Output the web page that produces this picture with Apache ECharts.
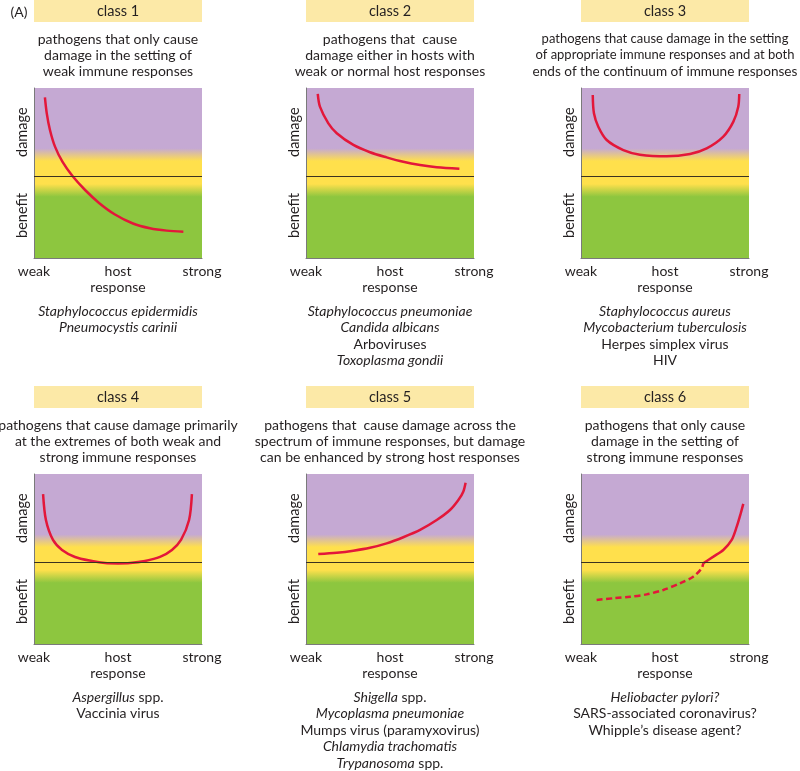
<!DOCTYPE html>
<html><head><meta charset="utf-8">
<script src="https://cdn.jsdelivr.net/npm/echarts@6/dist/echarts.min.js"></script>
<style>html,body{margin:0;padding:0;background:#fff}#c{width:800px;height:771px}</style>
</head><body><div id="c"></div>
<script>
// ---------- data ----------
const classNames = ['class 1', 'class 2', 'class 3', 'class 4', 'class 5', 'class 6'];
const descriptions = [
  ['pathogens that only cause', 'damage in the setting of', 'weak immune responses'],
  ['pathogens that  cause', 'damage either in hosts with', 'weak or normal host responses'],
  ['pathogens that cause damage in the setting', 'of appropriate immune responses and at both', 'ends of the continuum of immune responses'],
  ['pathogens that cause damage primarily', 'at the extremes of both weak and', 'strong immune responses'],
  ['pathogens that  cause damage across the', 'spectrum of immune responses, but damage', 'can be enhanced by strong host responses'],
  ['pathogens that only cause', 'damage in the setting of', 'strong immune responses']
];
const pathogens = [
  ['{i|Staphylococcus epidermidis}', '{i|Pneumocystis carinii}'],
  ['{i|Staphylococcus pneumoniae}', '{i|Candida albicans}', 'Arboviruses', '{i|Toxoplasma gondii}'],
  ['{i|Staphylococcus aureus}', '{i|Mycobacterium tuberculosis}', 'Herpes simplex virus', 'HIV'],
  ['{i|Aspergillus} spp.', 'Vaccinia virus'],
  ['{i|Shigella} spp.', '{i|Mycoplasma pneumoniae}', 'Mumps virus (paramyxovirus)', '{i|Chlamydia trachomatis}', '{i|Trypanosoma} spp.'],
  ['{i|Heliobacter pylori?}', 'SARS-associated coronavirus?', 'Whipple\u2019s disease agent?']
];
const xTickLabels = ['weak', 'host\nresponse', 'strong'];
const yTickLabels = ['damage', 'benefit'];
const yTickValues = [26, -23];
const panelLabel = '(A)';

// curves: [host response (0..100), damage(+)/benefit(-)]
const curve1 = [[6.5,46.5],[7.6,37.1],[9.5,27.3],[12.5,17.5],[17.0,8.5],[22.9,0.2],[30.4,-8.0],[38.7,-15.6],[48.2,-22.4],[58.9,-27.7],[69.0,-30.5],[79.0,-31.9],[88.9,-32.5]];
const curve2 = [[7.0,48.5],[8.3,41],[13.3,31.2],[18.3,25.4],[28.2,18.5],[38.1,14.2],[48,11.2],[57.9,8.6],[67.9,6.7],[77.8,5.4],[91.3,4.5]];
const curve3 = [[7.0,47.9],[7.7,37.1],[10.3,29.2],[15.3,21.4],[25.2,15.5],[35.1,12.8],[51,11.8],[64.9,13.2],[74.8,16.5],[84.7,23.4],[90.7,32.2],[93.6,41],[94.2,48.5]];
const curve4 = [[5.4,40.2],[7.1,24.9],[11.3,13.2],[16.7,7.3],[24.4,3.2],[34.5,0.8],[42.3,-0.4],[50,-0.6],[57.1,-0.4],[66.1,0.8],[75,3.2],[82.1,7.3],[87.5,13.2],[92.3,24.9],[94,40.2]];
const curve5 = [[7.3,4.9],[18.3,5.7],[28.2,6.9],[38.1,8.6],[48,11.2],[57.9,14.8],[67.9,19.1],[77.8,24.9],[85.7,30.8],[90.7,36.7],[93.6,41.6],[95,46.9]];
const curve6dashed = [[9.3,-22.1],[19.2,-21.1],[29.2,-20.2],[39.1,-18.8],[49,-16.2],[58.9,-12.3],[66.8,-8.4],[71.8,-3.5],[72.8,-0.5]];
const curve6solid = [[72.8,-0.5],[78.8,3.4],[84.7,7.3],[89.7,13.2],[92.7,21],[95.1,28.9],[96.6,34.4]];

// ---------- layout / style ----------
const FONT = 'Lato, "Open Sans", sans-serif';
const TXT = '#231f20';
const RED = '#e3173a';
const colLeft = [34, 306, 581];
const rowTop = [88, 474];
const W = 168, H = 170;
const rowOffset = 386;

const chart = echarts.init(document.getElementById('c'), null, {renderer: 'canvas'});

const bg = new echarts.graphic.LinearGradient(0, 0, 0, 1, [
  {offset: 0, color: '#c5a9d3'},
  {offset: 0.355, color: '#c5a9d3'},
  {offset: 0.43, color: '#ffe04c'},
  {offset: 0.565, color: '#ffe04c'},
  {offset: 0.64, color: '#8dc63f'},
  {offset: 1, color: '#8dc63f'}
]);

const grids = [], xAxes = [], yAxes = [], series = [], graphics = [];
const curves = [[{d: curve1}], [{d: curve2}], [{d: curve3}], [{d: curve4}], [{d: curve5}], [{d: curve6dashed, dash: true}, {d: curve6solid}]];

for (let p = 0; p < 6; p++) {
  const r = Math.floor(p / 3), c = p % 3;
  const left = colLeft[c], top = rowTop[r];
  const cx = left + W / 2;
  grids.push({left: left, top: top, width: W, height: H, show: true, backgroundColor: bg, borderWidth: 0});
  xAxes.push({
    type: 'value', gridIndex: p, min: 0, max: 100, interval: 50,
    axisLine: {show: true, onZero: false, lineStyle: {color: '#7a7a7a', width: 1}},
    axisTick: {show: false}, splitLine: {show: false},
    axisLabel: {
      margin: 5, fontFamily: FONT, fontSize: 14, lineHeight: 16, color: TXT,
      formatter: v => xTickLabels[Math.round(v / 50)]
    }
  });
  yAxes.push({
    type: 'value', gridIndex: p, min: -48, max: 52,
    axisLine: {show: true, onZero: false, lineStyle: {color: '#7a7a7a', width: 1}},
    axisTick: {show: false}, splitLine: {show: false},
    axisLabel: {
      customValues: yTickValues, rotate: 90, margin: 4,
      fontFamily: FONT, fontSize: 14.5, color: TXT,
      formatter: v => yTickLabels[yTickValues.indexOf(v)]
    }
  });
  curves[p].forEach((cv, k) => {
    series.push({
      type: 'line', xAxisIndex: p, yAxisIndex: p, data: cv.d, smooth: 0.3,
      showSymbol: false, symbol: 'none', silent: true, z: 3,
      lineStyle: {color: RED, width: 2.5, type: cv.dash ? [6, 3.5] : 'solid', cap: 'butt'},
      markLine: k === 0 ? {
        silent: true, symbol: 'none', label: {show: false},
        lineStyle: {color: '#3b3320', width: 1, type: 'solid'},
        data: [{yAxis: 0}]
      } : undefined
    });
  });

  // header
  const hy = r * rowOffset;
  graphics.push({type: 'rect', shape: {x: left, y: hy, width: W, height: 22}, style: {fill: '#fce9a7'}, z: 1});
  graphics.push({type: 'text', x: cx, y: hy + 11, style: {text: classNames[p], font: '14.5px ' + FONT, fill: TXT, align: 'center', verticalAlign: 'middle'}, z: 2});
  // description
  descriptions[p].forEach((line, i) => {
    const fs = (p === 2 && i < 2) ? 13 : (p === 2 ? 13.6 : 14);
    graphics.push({type: 'text', x: cx, y: hy + 39 + i * 16.3, style: {text: line, font: fs + 'px ' + FONT, fill: TXT, align: 'center', verticalAlign: 'middle'}, z: 2});
  });
  // pathogens
  pathogens[p].forEach((line, i) => {
    graphics.push({type: 'text', x: cx, y: hy + 311 + i * 16.5, style: {
      text: line, fontFamily: FONT, fontSize: 14, fill: TXT, align: 'center', verticalAlign: 'middle',
      rich: {i: {fontStyle: 'italic', fontFamily: FONT, fontSize: 14, fill: TXT}}
    }, z: 2});
  });
}
graphics.push({type: 'text', x: 19, y: 12, style: {text: panelLabel, font: '14px ' + FONT, fill: TXT, align: 'center', verticalAlign: 'middle'}});

chart.setOption({
  animation: false,
  backgroundColor: '#ffffff',
  grid: grids, xAxis: xAxes, yAxis: yAxes, series: series, graphic: graphics
});
</script>
</body></html>
